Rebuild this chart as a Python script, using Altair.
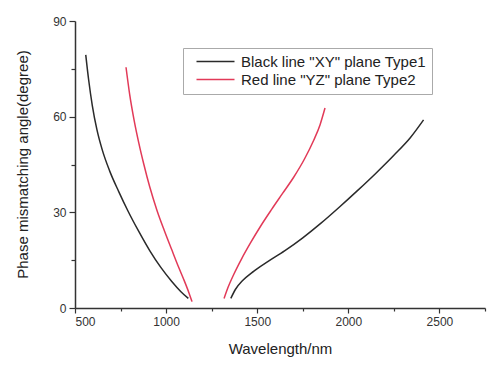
import altair as alt
import pandas as pd

# Black line "XY" plane Type1 — left branch
black_left_x = [559, 575, 595, 620, 650, 690, 740, 790, 850, 910, 970, 1030, 1080, 1122]
black_left_y = [79.4, 71.5, 63.5, 56.0, 49.5, 43.0, 36.5, 30.5, 24.0, 18.0, 12.8, 8.4, 5.2, 3.0]
# Black — right branch
black_right_x = [1355, 1380, 1420, 1480, 1560, 1650, 1750, 1850, 1950, 2050, 2150, 2250, 2340, 2413]
black_right_y = [3.0, 5.8, 8.6, 11.5, 14.6, 17.9, 22.0, 26.6, 31.6, 36.8, 42.2, 47.9, 53.4, 59.0]
# Red line "YZ" plane Type2 — left branch
red_left_x = [780, 800, 825, 850, 878, 910, 950, 990, 1030, 1070, 1100, 1125, 1142]
red_left_y = [75.5, 67.0, 58.7, 51.8, 45.0, 38.0, 30.6, 24.3, 18.4, 12.6, 8.5, 4.8, 2.0]
# Red — right branch
red_right_x = [1318, 1340, 1371, 1415, 1463, 1520, 1580, 1640, 1700, 1760, 1810, 1845, 1872]
red_right_y = [3.0, 6.5, 10.5, 15.5, 20.4, 25.8, 31.0, 36.0, 41.0, 46.8, 52.6, 57.5, 62.7]

series_names = ['Black line "XY" plane Type1', 'Red line "YZ" plane Type2']
series_colors = ["#2a2a2a", "#e23a58"]

rows = []
for name, seg, xs, ys in [
    (series_names[0], "bl", black_left_x, black_left_y),
    (series_names[0], "br", black_right_x, black_right_y),
    (series_names[1], "rl", red_left_x, red_left_y),
    (series_names[1], "rr", red_right_x, red_right_y),
]:
    for x, y in zip(xs, ys):
        rows.append({"series": name, "seg": seg, "wl": x, "ang": y})
df = pd.DataFrame(rows)

x_values = [500, 750, 1000, 1250, 1500, 1750, 2000, 2250, 2500, 2750]
y_values = [0, 15, 30, 45, 60, 75, 90]

font = "Liberation Sans"

chart = alt.Chart(df).mark_line(strokeWidth=1.5, interpolate="monotone").encode(
    x=alt.X(
        "wl:Q",
        scale=alt.Scale(domain=[500, 2750], nice=False),
        axis=alt.Axis(
            title="Wavelength/nm",
            values=x_values,
            labelExpr="datum.value % 500 == 0 && datum.value < 2750 ? datum.label : ''",
            format="d",
            grid=False,
            tickSize={"condition": {"test": "datum.value % 500 == 0 && datum.value < 2750", "value": 5}, "value": 3},
            titleY=40,
            titleBaseline="middle",
        ),
    ),
    y=alt.Y(
        "ang:Q",
        scale=alt.Scale(domain=[0, 90], nice=False),
        axis=alt.Axis(
            title="Phase mismatching angle(degree)",
            values=y_values,
            labelExpr="datum.value % 30 == 0 ? datum.label : ''",
            grid=False,
            tickSize={"condition": {"test": "datum.value % 30 == 0", "value": 6}, "value": 4},
            titleX=-53,
            titleY=143,
            titleAngle=270,
            titleAlign="center",
            titleBaseline="middle",
        ),
    ),
    color=alt.Color(
        "series:N",
        scale=alt.Scale(domain=series_names, range=series_colors),
        legend=alt.Legend(
            title=None,
            orient="none",
            legendX=108,
            legendY=27,
            strokeColor="#aaaaaa",
            fillColor="white",
            padding=6,
            symbolType="M0,0L7.6,0",
            symbolSize=100,
            symbolStrokeWidth=1.5,
            labelFontSize=15,
            labelFont=font,
            labelColor="#222222",
            labelOffset=37,
            labelLimit=400,
            rowPadding=2,
        ),
    ),
    detail="seg:N",
).properties(
    width=410,
    height=287,
    autosize=alt.AutoSizeParams(type="none"),
    padding={"left": 67, "top": 13, "right": 6, "bottom": 59},
).configure_view(
    stroke=None
).configure_axis(
    domainColor="#333333",
    domainWidth=1.5,
    tickColor="#333333",
    tickWidth=1.2,
    labelFont=font,
    labelFontSize=12,
    labelColor="#333333",
    labelPadding=3,
    titleFont=font,
    titleFontSize=15,
    titleFontWeight="normal",
    titleColor="#222222",
)

chart.save("out.html", embed_options={"renderer": "svg", "actions": False})
